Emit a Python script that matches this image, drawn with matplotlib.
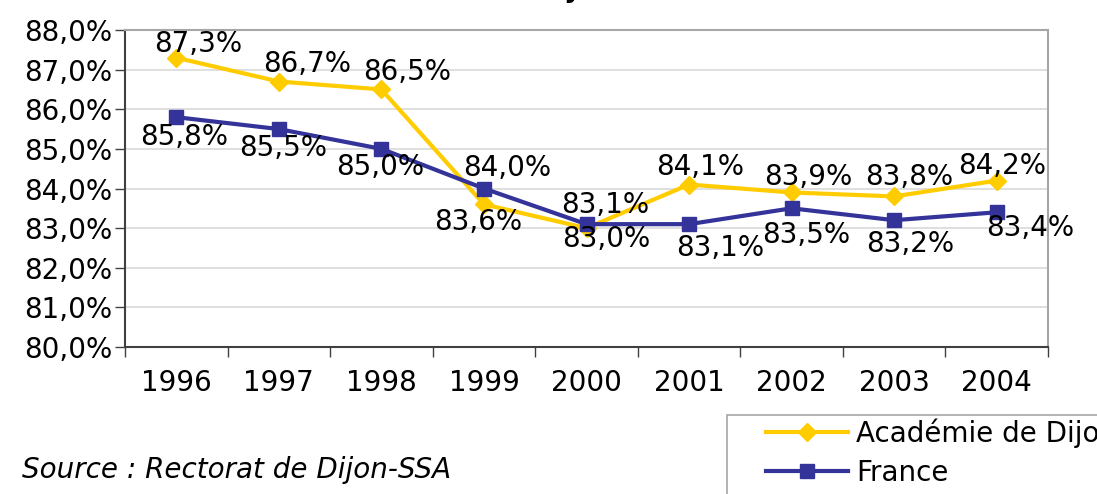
import matplotlib
matplotlib.use("Agg")
import matplotlib.pyplot as plt
from matplotlib.ticker import MultipleLocator, FuncFormatter
from matplotlib.patches import Rectangle

plt.rcParams['font.family'] = ['DejaVu Sans']

years = ['1996', '1997', '1998', '1999', '2000', '2001', '2002', '2003', '2004']
academie = [87.3, 86.7, 86.5, 83.6, 83.0, 84.1, 83.9, 83.8, 84.2]
france = [85.8, 85.5, 85.0, 84.0, 83.1, 83.1, 83.5, 83.2, 83.4]
series_names = ['Académie de Dijon', 'France']
source_text = 'Source : Rectorat de Dijon-SSA'

# label offsets in pixels (dx, dy)
acad_off = [(22, 14), (28, 18), (26, 17), (-6, -18), (20, -11), (11, 18), (17, 15), (15, 19), (5, 15)]
fr_off = [(8, -20), (4, -19), (-1, -18), (23, 21), (19, 19), (31, -24), (15, -27), (16, -24), (33, -16)]

YEL = '#FFCC00'
BLU = '#333399'
FS = 20

fig = plt.figure(figsize=(10.97, 4.94), dpi=100)
ax = fig.add_axes([125/1097, 1-347/494, (1048-125)/1097, (347-30)/494])

x = list(range(len(years)))
ax.plot(x, academie, color=YEL, lw=3, marker='D', ms=9, mec=YEL, mfc=YEL, label=series_names[0], zorder=3)
ax.plot(x, france, color=BLU, lw=3, marker='s', ms=10, mec=BLU, mfc=BLU, label=series_names[1], zorder=4)

def fmt(v):
    return f"{v:.1f}%".replace('.', ',')

for xi, v, (dx, dy) in zip(x, academie, acad_off):
    ax.annotate(fmt(v), (xi, v), xytext=(dx, dy), textcoords='offset pixels',
                ha='center', va='center', fontsize=FS, zorder=6, annotation_clip=False)
for xi, v, (dx, dy) in zip(x, france, fr_off):
    ax.annotate(fmt(v), (xi, v), xytext=(dx, dy), textcoords='offset pixels',
                ha='center', va='center', fontsize=FS, zorder=6, annotation_clip=False)

ax.set_xlim(-0.5, len(years) - 0.5)
ax.set_ylim(80, 88)
ax.yaxis.set_major_locator(MultipleLocator(1))
ax.yaxis.set_major_formatter(FuncFormatter(lambda v, p: fmt(v)))
ax.set_xticks(x)
ax.set_xticklabels(years)
ax.set_xticks([i - 0.5 for i in range(len(years) + 1)], minor=True)
ax.tick_params(axis='x', which='major', length=0, pad=16, labelsize=FS)
ax.tick_params(axis='x', which='minor', length=7, width=1, color='#404040')
ax.tick_params(axis='y', length=7, width=1, color='#404040', pad=2, labelsize=FS)

ax.grid(axis='y', color='#D9D9D9', lw=1.2, zorder=0)
ax.set_axisbelow(True)
for s in ['top', 'right']:
    ax.spines[s].set_color('#A6A6A6')
    ax.spines[s].set_linewidth(1.5)
for s in ['left', 'bottom']:
    ax.spines[s].set_color('#404040')
    ax.spines[s].set_linewidth(1.5)

# legend frame (extends past the figure edge as in the reference)
fig.patches.append(Rectangle((727/1097, 1-510/494), 400/1097, 95/494, transform=fig.transFigure,
                             facecolor='white', edgecolor='#A6A6A6', lw=1.2, zorder=1))
leg = fig.legend(loc='upper left', bbox_to_anchor=(766/1097, 1-418/494), fontsize=FS,
                 frameon=False, borderpad=0, handlelength=2.95, handletextpad=0.3,
                 labelspacing=0.42, borderaxespad=0)
leg.set_zorder(2)

fig.text(22/1097, 1-470/494, source_text, fontsize=20, style='italic', ha='left', va='center')
fig.text(535/1097, 1 + 3/494, 'Dijon', fontsize=20, fontweight='bold', ha='left', va='baseline')

fig.savefig('out.png', dpi=100)
